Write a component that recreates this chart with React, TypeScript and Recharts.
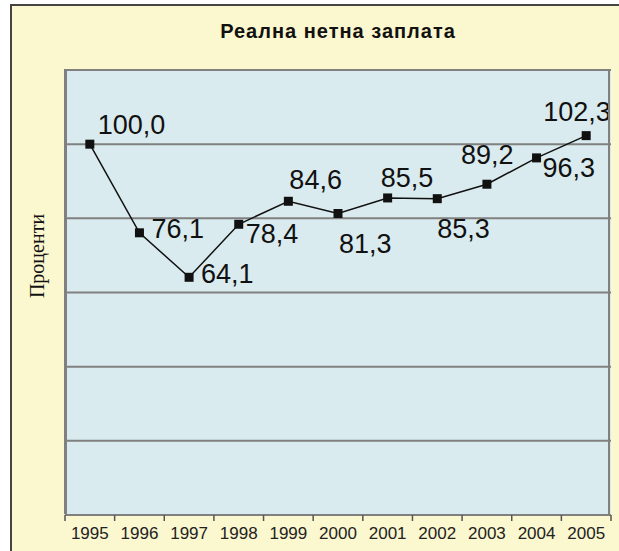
import { LineChart, Line, XAxis, YAxis, CartesianGrid, LabelList, ReferenceLine } from "recharts";

const years = ["1995", "1996", "1997", "1998", "1999", "2000", "2001", "2002", "2003", "2004", "2005"];
const wages = [100.0, 76.1, 64.1, 78.4, 84.6, 81.3, 85.5, 85.3, 89.2, 96.3, 102.3];
const yTicks = [0, 20, 40, 60, 80, 100, 120];

// where each value label sits relative to its marker (text start, baseline)
const labelOffsets = [
  [8, -10], [12, 5], [12, 6], [7, 19], [1, -12], [1, 39],
  [-7, -11], [0, 39], [-26, -20], [6, 19], [-43, -15],
];

const W = 619;
const H = 551;
const PLOT_LEFT = 65;
const PLOT_TOP = 70;
const PLOT_W = 546;
const PLOT_H = 445;
const HALF_BAND = PLOT_W / years.length / 2;

const data = years.map((y, i) => ({ idx: i, year: y, value: wages[i] }));

const fmt = (v: number) => v.toFixed(1).replace(".", ",");

function YearTick(props: any) {
  const { x, y, payload } = props;
  const i = payload.value as number;
  return (
    <g>
      <line x1={x - HALF_BAND} x2={x - HALF_BAND} y1={y} y2={y + 6} stroke="#555" strokeWidth={1.5} />
      {i === years.length - 1 && (
        <line x1={x + HALF_BAND} x2={x + HALF_BAND} y1={y} y2={y + 6} stroke="#555" strokeWidth={1.5} />
      )}
      <text x={x} y={y + 24} textAnchor="middle" fontSize={17} fill="#222" fontFamily="'Liberation Sans', Arial, sans-serif">
        {years[i]}
      </text>
    </g>
  );
}

function ValueLabel(props: any) {
  const { x, y, value, index } = props;
  const [dx, dy] = labelOffsets[index] || [6, -8];
  return (
    <text x={x + dx} y={y + dy} fontSize={27} fill="#111" fontFamily="'Liberation Sans', Arial, sans-serif">
      {fmt(value)}
    </text>
  );
}

function SquareDot(props: any) {
  const { cx, cy, index } = props;
  return <rect key={`d${index}`} x={cx - 4.5} y={cy - 4.5} width={9} height={9} fill="#111" />;
}

export default function App() {
  return (
    <div style={{ position: "absolute", left: 0, top: 0, width: W, height: H, background: "#fff", overflow: "hidden" }}>
      <div
        style={{
          position: "absolute",
          left: 10,
          top: 4,
          width: W,
          height: H,
          background: "#FBF7CE",
          borderTop: "2px solid #444",
          borderLeft: "2px solid #444",
        }}
      />
      <div style={{ position: "absolute", left: 0, top: 0 }}>
        <LineChart width={W} height={H} data={data} margin={{ top: PLOT_TOP, right: W - PLOT_LEFT - PLOT_W, bottom: 6, left: PLOT_LEFT }}>
          <CartesianGrid vertical={false} horizontal={false} fill="#D9EBEE" fillOpacity={1} />
          <XAxis
            dataKey="idx"
            type="number"
            domain={[-0.5, years.length - 0.5]}
            ticks={data.map((d) => d.idx)}
            interval={0}
            height={H - PLOT_TOP - PLOT_H - 6}
            tickSize={0}
            tickMargin={0}
            tickLine={false}
            axisLine={{ stroke: "#808080", strokeWidth: 2 }}
            tick={<YearTick />}
          />
          <YAxis domain={[0, 120]} ticks={yTicks} width={0} tick={false} tickLine={false} axisLine={false} />
          {yTicks.map((t) => (
            <ReferenceLine key={t} y={t} stroke="#808080" strokeWidth={2} ifOverflow="extendDomain" />
          ))}
          <Line
            dataKey="value"
            stroke="#111"
            strokeWidth={1.5}
            dot={SquareDot}
            isAnimationActive={false}
          >
            <LabelList dataKey="value" content={<ValueLabel />} />
          </Line>
        </LineChart>
      </div>
      <div
        style={{
          position: "absolute",
          left: PLOT_LEFT - 1,
          top: PLOT_TOP - 1,
          width: PLOT_W,
          height: PLOT_H,
          borderTop: "2px solid #808080",
          borderRight: "2px solid #808080",
          borderLeft: "3px solid #808080",
          boxSizing: "border-box",
          pointerEvents: "none",
        }}
      />
      <div
        style={{
          position: "absolute",
          left: 0,
          width: 676,
          top: 20,
          textAlign: "center",
          fontFamily: "'Liberation Sans', Arial, sans-serif",
          fontWeight: "bold",
          fontSize: 20,
          letterSpacing: 1,
          color: "#111",
        }}
      >
        Реална нетна заплата
      </div>
      <div
        style={{
          position: "absolute",
          left: 37,
          top: 256,
          transform: "translate(-50%, -50%) rotate(-90deg)",
          fontFamily: "'Liberation Serif', 'Times New Roman', serif",
          fontSize: 20,
          color: "#111",
          whiteSpace: "nowrap",
        }}
      >
        Проценти
      </div>
    </div>
  );
}
